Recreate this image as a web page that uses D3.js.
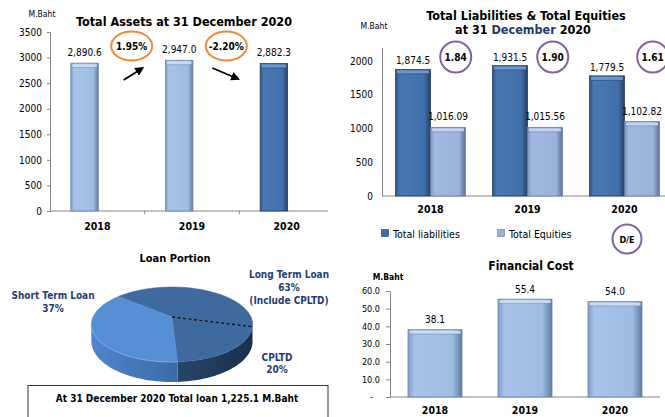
<!DOCTYPE html>
<html>
<head>
<meta charset="utf-8">
<script src="https://cdn.jsdelivr.net/npm/d3@7"></script>
<style>
  body { margin: 0; background: #fff; }
  svg { display: block; }
</style>
</head>
<body>
<div id="chart"></div>
<script>
// values
const years = ["2018", "2019", "2020"];
const totalAssets = [2890.6, 2947.0, 2882.3];
const assetChange = ["1.95%", "-2.20%"];
const assetTicks = [0, 500, 1000, 1500, 2000, 2500, 3000, 3500];

const liabilities = [1874.5, 1931.5, 1779.5];
const equities = [1016.09, 1015.56, 1102.82];
const deRatio = [1.84, 1.90, 1.61];
const leTicks = [0, 500, 1000, 1500, 2000];
const leKeys = ["Total liabilities", "Total Equities"];

const loanNames = ["Long Term Loan", "CPLTD", "Short Term Loan"];
const loanShares = [43, 20, 37];
const totalLoan = 1225.1;

const financialCost = [38.1, 55.4, 54.0];
const costTicks = [0, 10, 20, 30, 40, 50, 60];

const FONT = "'DejaVu Sans Condensed', 'DejaVu Sans', sans-serif";
const W = 665, H = 417;

const svg = d3.select("#chart").append("svg")
  .attr("width", W).attr("height", H)
  .style("font-family", FONT);

const defs = svg.append("defs");

// bar gradients (bevel look)
function barGrad(id, edgeL, mid1, mid2, edgeR) {
  const g = defs.append("linearGradient").attr("id", id)
    .attr("x1", 0).attr("x2", 1).attr("y1", 0).attr("y2", 0);
  g.append("stop").attr("offset", 0).attr("stop-color", edgeL);
  g.append("stop").attr("offset", 0.12).attr("stop-color", mid1);
  g.append("stop").attr("offset", 0.82).attr("stop-color", mid2);
  g.append("stop").attr("offset", 1).attr("stop-color", edgeR);
}
barGrad("gLight", "#7f9dc6", "#a6c3e9", "#9fbde3", "#5f7ca3");
barGrad("gDark", "#2e5486", "#4878b2", "#416faa", "#253f65");
barGrad("gEq", "#7e93bd", "#a2b8e0", "#9bb2da", "#5e7099");

const cap = { gLight: "#c8dbf3", gDark: "#6e97c9", gEq: "#c3d2ee" };
const edge = { gLight: "#6a86ad", gDark: "#233f68", gEq: "#6a7ea6" };

function drawBar(g, x, y, w, h, grad) {
  g.append("rect").attr("x", x).attr("y", y).attr("width", w).attr("height", h)
    .attr("fill", `url(#${grad})`).attr("stroke", edge[grad]).attr("stroke-width", 0.8);
  g.append("rect").attr("x", x + 1.5).attr("y", y + 1).attr("width", w - 3).attr("height", 3)
    .attr("fill", cap[grad]);
  g.append("line").attr("x1", x + 1).attr("x2", x + w - 1).attr("y1", y + 4.5).attr("y2", y + 4.5)
    .attr("stroke", edge[grad]).attr("stroke-width", 0.6).attr("opacity", 0.7);
}

function txt(g, x, y, s, size, opt = {}) {
  return g.append("text").attr("x", x).attr("y", y)
    .attr("text-anchor", opt.anchor || "middle")
    .attr("font-size", size)
    .attr("font-weight", opt.bold ? "bold" : "normal")
    .attr("fill", opt.color || "#000")
    .text(s);
}

function styleAxis(a) {
  a.select(".domain").attr("stroke", "#868686");
  a.selectAll(".tick line").attr("stroke", "#868686");
  a.selectAll(".tick text").attr("fill", "#000").style("font-family", FONT);
}

// ---------- Panel 1: Total Assets ----------
const p1 = svg.append("g");
const y1 = d3.scaleLinear().domain([0, 3500]).range([211, 32]);
const x1 = d3.scaleBand().domain(years).range([50, 334]);

const ax1 = p1.append("g").attr("transform", "translate(50,0)")
  .call(d3.axisLeft(y1).tickValues(assetTicks).tickFormat(d3.format("d"))
    .tickSize(3).tickSizeOuter(0).tickPadding(5))
  .attr("font-size", 10);
styleAxis(ax1);
p1.append("line").attr("x1", 50).attr("x2", 328).attr("y1", 211).attr("y2", 211).attr("stroke", "#868686");
years.slice(1).forEach(yr => {
  p1.append("line").attr("x1", x1(yr)).attr("x2", x1(yr)).attr("y1", 211).attr("y2", 214).attr("stroke", "#868686");
});

totalAssets.forEach((v, i) => {
  const bw = x1.bandwidth();
  const bx = x1(years[i]) + bw * 0.22, w = bw * 0.29;
  drawBar(p1, bx, y1(v), w, y1(0) - y1(v), i === totalAssets.length - 1 ? "gDark" : "gLight");
  txt(p1, bx + w / 2, y1(v) - 7.5, d3.format(",.1f")(v), 10);
  txt(p1, x1(years[i]) + bw / 2, 230, years[i], 10.5, { bold: true });
});

// change annotations
defs.append("marker").attr("id", "arrow").attr("viewBox", "0 0 10 10")
  .attr("refX", 8).attr("refY", 5).attr("markerWidth", 5).attr("markerHeight", 5)
  .attr("orient", "auto")
  .append("path").attr("d", "M0,0 L10,5 L0,10 Z").attr("fill", "#000");

assetChange.forEach((c, i) => {
  const bx = x1(years[i + 1]);
  p1.append("ellipse").attr("cx", bx - 13).attr("cy", 46).attr("rx", 20.5).attr("ry", 14.5)
    .attr("fill", "none").attr("stroke", "#f0883a").attr("stroke-width", 2);
  txt(p1, bx - 13, 49.5, c, 10, { bold: true });
  const up = totalAssets[i + 1] > totalAssets[i];
  p1.append("line")
    .attr("x1", bx - 21 + (up ? 0 : -6)).attr("y1", up ? 80 : 68)
    .attr("x2", bx - 2 + (up ? 0 : 1)).attr("y2", up ? 68 : 79)
    .attr("stroke", "#000").attr("stroke-width", 1.8).attr("marker-end", "url(#arrow)");
});

txt(p1, 184, 26, "Total Assets at 31 December 2020", 12.5, { bold: true });
txt(p1, 42, 17, "M.Baht", 8.5);

// ---------- Panel 2: Liabilities & Equities ----------
const p2 = svg.append("g");
const y2 = d3.scaleLinear().domain([0, 2200]).range([196, 47.5]);
const x2 = d3.scaleBand().domain(years).range([382, 673]);
const x2i = d3.scaleBand().domain(leKeys).range([x2.bandwidth() * 0.14, x2.bandwidth() * 0.86]);

const ax2 = p2.append("g").attr("transform", "translate(382,0)")
  .call(d3.axisLeft(y2).tickValues(leTicks).tickFormat(d3.format("d"))
    .tickSize(0).tickSizeOuter(0).tickPadding(9))
  .attr("font-size", 10);
styleAxis(ax2);
p2.append("line").attr("x1", 382).attr("x2", 665).attr("y1", 196).attr("y2", 196).attr("stroke", "#868686");

years.forEach((yr, i) => {
  const vals = [liabilities[i], equities[i]];
  leKeys.forEach((k, j) => {
    const bx = x2(yr) + x2i(k), w = x2i.bandwidth();
    const v = vals[j];
    drawBar(p2, bx, y2(v), w, y2(0) - y2(v), j === 0 ? "gDark" : "gEq");
    const lab = j === 0 ? d3.format(",.1f")(v) : d3.format(",.2f")(v);
    txt(p2, bx + w / 2, y2(v) - (j === 0 ? 5 : 7), lab, 10);
  });
  txt(p2, x2(yr) + x2.bandwidth() / 2, 213, yr, 10.5, { bold: true });
  // D/E circle
  const cx = x2(yr) + x2.bandwidth() * 0.76 + (i === 2 ? 3 : 0);
  p2.append("circle").attr("cx", cx).attr("cy", 57).attr("r", 15.5)
    .attr("fill", "none").attr("stroke", "#8064a2").attr("stroke-width", 2);
  txt(p2, cx, 60.5, d3.format(".2f")(deRatio[i]), 10, { bold: true });
});

// legend
const lgX = [381.5, 497.5];
leKeys.forEach((k, j) => {
  p2.append("rect").attr("x", lgX[j]).attr("y", 229.5).attr("width", 7).attr("height", 7)
    .attr("fill", j === 0 ? "#3f6ca6" : "#98b0d9").attr("stroke", j === 0 ? "#233f68" : "#6a7ea6").attr("stroke-width", 0.6);
  txt(p2, lgX[j] + 11.5, 237.5, k, 10.5, { anchor: "start" });
});
p2.append("circle").attr("cx", 627).attr("cy", 239).attr("r", 14.5)
  .attr("fill", "none").attr("stroke", "#8064a2").attr("stroke-width", 2);
txt(p2, 627, 242.5, "D/E", 9, { bold: true });

p2.append("text").attr("x", 526).attr("y", 19.5).attr("text-anchor", "middle")
  .attr("font-size", 12.5).attr("font-weight", "bold").text("Total Liabilities & Total Equities");
const t2b = p2.append("text").attr("x", 523).attr("y", 33.5).attr("text-anchor", "middle")
  .attr("font-size", 12.5).attr("font-weight", "bold");
t2b.append("tspan").text("at 31 ");
t2b.append("tspan").attr("fill", "#1f3a6e").text("December");
t2b.append("tspan").text(" 2020");
txt(p2, 374, 29, "M.Baht", 8.5);

// ---------- Panel 3: Loan Portion (3D pie) ----------
const p3 = svg.append("g");
const pc = { cx: 172, cy: 317, R: 79, T: 36, F: 5, D: 16 };
function proj(a, k, down) {
  const Z = k * Math.cos(a);
  const s = pc.F / (pc.F + Z);
  return [pc.cx + pc.R * k * Math.sin(a) * s, pc.cy - pc.T * Z * s + (down ? pc.D * s : 0)];
}
const startA = -50 * Math.PI / 180;
const arcs = d3.pie().sort(null).value(d => d)
  .startAngle(startA).endAngle(startA + 2 * Math.PI)(loanShares);
const line = d3.line();
const sideGradShort = defs.append("linearGradient").attr("id", "sideShort")
  .attr("gradientUnits", "userSpaceOnUse").attr("x1", 92).attr("x2", 252).attr("y1", 0).attr("y2", 0);
sideGradShort.append("stop").attr("offset", 0).attr("stop-color", "#4f85ca");
sideGradShort.append("stop").attr("offset", 1).attr("stop-color", "#2a538c");
const sideGradLong = defs.append("linearGradient").attr("id", "sideLong")
  .attr("gradientUnits", "userSpaceOnUse").attr("x1", 92).attr("x2", 252).attr("y1", 0).attr("y2", 0);
sideGradLong.append("stop").attr("offset", 0).attr("stop-color", "#35608f");
sideGradLong.append("stop").attr("offset", 1).attr("stop-color", "#1a2f4c");

const visLo = Math.acos(-1 / pc.F), visHi = 2 * Math.PI - visLo;
const topCol = ["#3f6a9e", "#3f6a9e", "#568ed5"];
const sideCol = ["url(#sideLong)", "url(#sideLong)", "url(#sideShort)"];
const norm = a => ((a % (2 * Math.PI)) + 2 * Math.PI) % (2 * Math.PI);

// sides
arcs.forEach((d, i) => {
  const s0 = norm(d.startAngle), s1 = s0 + (d.endAngle - d.startAngle);
  const lo = Math.max(s0, visLo), hi = Math.min(s1, visHi);
  if (hi <= lo) return;
  const steps = d3.range(0, 41).map(t => lo + (hi - lo) * t / 40);
  const pts = steps.map(a => proj(a, 1, false)).concat(steps.slice().reverse().map(a => proj(a, 1, true)));
  p3.append("path").attr("d", line(pts) + "Z").attr("fill", sideCol[i]);
});
// top faces
arcs.forEach((d, i) => {
  const steps = d3.range(0, 61).map(t => d.startAngle + (d.endAngle - d.startAngle) * t / 60);
  const pts = [proj(0, 0, false)].concat(steps.map(a => proj(a, 1, false)));
  p3.append("path").attr("d", line(pts) + "Z").attr("fill", topCol[i])
    .attr("stroke", topCol[i]).attr("stroke-width", 0.5);
});
// highlight rim on short-term top edge
{
  const d = arcs[2];
  const lo = Math.max(d.startAngle, visLo), hi = Math.min(d.endAngle, visHi);
  const steps = d3.range(0, 41).map(t => lo + (hi - lo) * t / 40);
  p3.append("path").attr("d", line(steps.map(a => proj(a, 1, false))))
    .attr("fill", "none").attr("stroke", "#7aa9e6").attr("stroke-width", 1);
}
// dashed split between long term and CPLTD
{
  const e = proj(arcs[0].endAngle, 1, false), c = proj(0, 0, false);
  p3.append("line").attr("x1", c[0]).attr("y1", c[1]).attr("x2", e[0]).attr("y2", e[1])
    .attr("stroke", "#111").attr("stroke-width", 1.3).attr("stroke-dasharray", "3,2.5");
}

const navy = "#1f3d7a";
txt(p3, 175, 262, "Loan Portion", 11, { bold: true });
txt(p3, 53, 299, loanNames[2], 10, { bold: true, color: navy });
txt(p3, 53, 312, loanShares[2] + "%", 10, { bold: true, color: navy });
txt(p3, 289, 278, loanNames[0], 10, { bold: true, color: navy });
txt(p3, 289, 291, (loanShares[0] + loanShares[1]) + "%", 10, { bold: true, color: navy });
txt(p3, 289, 304, "(Include CPLTD)", 10, { bold: true, color: navy });
txt(p3, 277, 361, loanNames[1], 10, { bold: true, color: navy });
txt(p3, 277, 373, loanShares[1] + "%", 10, { bold: true, color: navy });

p3.append("rect").attr("x", 28).attr("y", 385.5).attr("width", 300).attr("height", 40)
  .attr("fill", "#fff").attr("stroke", "#333").attr("stroke-width", 1);
txt(p3, 177, 402, `At 31 December 2020 Total loan ${d3.format(",.1f")(totalLoan)} M.Baht`, 10, { bold: true });

// ---------- Panel 4: Financial Cost ----------
const p4 = svg.append("g");
const y4 = d3.scaleLinear().domain([0, 60]).range([397, 291]);
const x4 = d3.scaleBand().domain(years).range([390, 660]).paddingInner(0.4).paddingOuter(0.2);
const ax4 = p4.append("g").attr("transform", "translate(390,0)")
  .call(d3.axisLeft(y4).tickValues(costTicks).tickSize(4).tickSizeOuter(0).tickPadding(6)
    .tickFormat(d => d === 0 ? "-" : d3.format(".1f")(d)))
  .attr("font-size", 9);
styleAxis(ax4);
ax4.selectAll(".tick text").filter(d => d === 0).attr("dx", -7);
p4.append("line").attr("x1", 390).attr("x2", 660).attr("y1", 397).attr("y2", 397).attr("stroke", "#868686");

financialCost.forEach((v, i) => {
  const bx = x4(years[i]), w = x4.bandwidth();
  drawBar(p4, bx, y4(v), w, y4(0) - y4(v), "gLight");
  txt(p4, bx + w / 2, y4(v) - 6.5, d3.format(".1f")(v), 10);
  txt(p4, bx + w / 2, 414, years[i], 10.5, { bold: true });
});
txt(p4, 531, 269.5, "Financial Cost", 12, { bold: true });
txt(p4, 388, 279.5, "M.Baht", 8.5, { bold: true });
</script>
</body>
</html>
